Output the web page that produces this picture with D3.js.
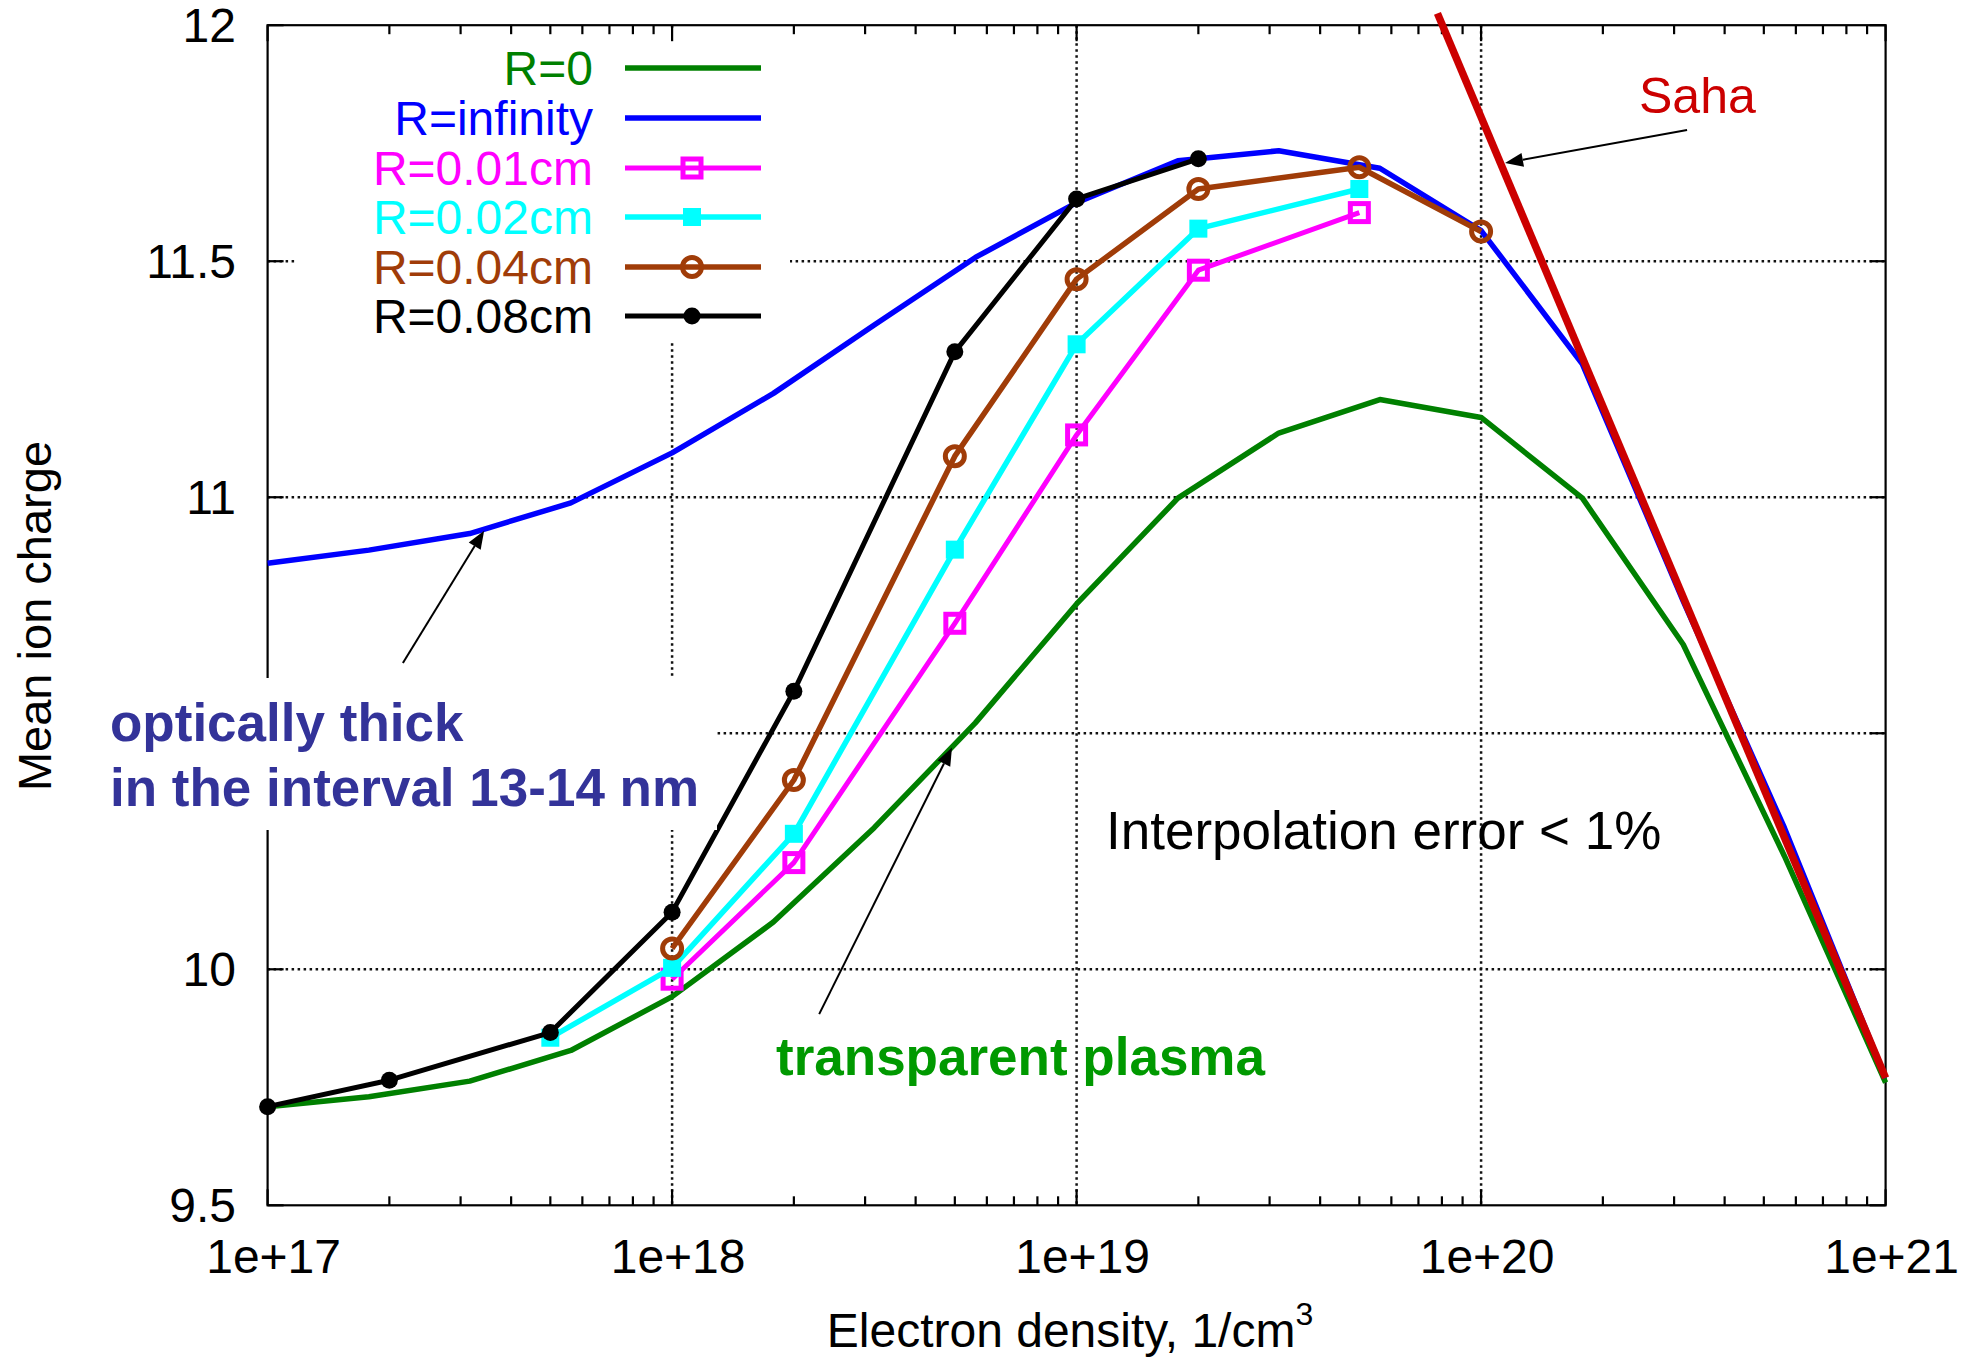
<!DOCTYPE html>
<html><head><meta charset="utf-8">
<script src="https://cdn.jsdelivr.net/npm/d3@7"></script>
<style>html,body{margin:0;padding:0;background:#fff}svg{display:block}</style>
</head><body>
<svg id="c" width="1979" height="1363"></svg>
<script>
// ---------------- data ----------------
const densityFine = [1e17,1.78e17,3.16e17,5.62e17,1e18,1.78e18,3.16e18,5.62e18,1e19,1.78e19,3.16e19,5.62e19,1e20,1.78e20,3.16e20,5.62e20,1e21];
const chargeR0    = [9.709,9.730,9.763,9.828,9.942,10.100,10.300,10.522,10.774,10.998,11.136,11.207,11.169,10.998,10.688,10.240,9.760];
const chargeRinf  = [10.860,10.888,10.923,10.988,11.094,11.220,11.365,11.508,11.624,11.713,11.734,11.697,11.565,11.282,10.780,10.300,9.770];
const densityR001 = [1e18,2e18,5e18,1e19,2e19,5e19];
const chargeR001  = [9.979,10.226,10.733,11.132,11.481,11.603];
const densityR002 = [5e17,1e18,2e18,5e18,1e19,2e19,5e19];
const chargeR002  = [9.855,10.003,10.287,10.889,11.324,11.569,11.653];
const densityR004 = [1e18,2e18,5e18,1e19,2e19,5e19,1e20];
const chargeR004  = [10.044,10.401,11.087,11.462,11.653,11.699,11.563];
const densityR008 = [1e17,2e17,5e17,1e18,2e18,5e18,1e19,2e19];
const chargeR008  = [9.709,9.765,9.866,10.121,10.589,11.308,11.632,11.717];
const densitySaha = [7.8e19,1e21];
const chargeSaha  = [12.025,9.770];

const xTickValues = [1e17,1e18,1e19,1e20,1e21];
const xTickLabels = ["1e+17","1e+18","1e+19","1e+20","1e+21"];
const yTickValues = [9.5,10,10.5,11,11.5,12];
const yTickLabels = ["9.5","10","10.5","11","11.5","12"];

const seriesNames = ["R=0","R=infinity","R=0.01cm","R=0.02cm","R=0.04cm","R=0.08cm"];

// annotation anchors (data coordinates)
const arrowThick  = [[2.16e17,10.649],[3.43e17,10.929]];
const arrowTransp = [[2.31e18,9.905],[4.92e18,10.470]];
const arrowSaha   = [[3.23e20,11.778],[1.146e20,11.708]];

// ---------------- layout ----------------
const L = 267.6, R = 1885.6, T = 25.2, B = 1205.3;
const svg = d3.select("#c");
const FONT = "'Liberation Sans', Arial, Helvetica, sans-serif";

const x = d3.scaleLog().domain([1e17,1e21]).range([L,R]);
const y = d3.scaleLinear().domain([9.5,12]).range([B,T]);

const series = [
  {name: seriesNames[0], xs: densityFine, ys: chargeR0,   color:"#008000", w:5.5, marker:null},
  {name: seriesNames[1], xs: densityFine, ys: chargeRinf, color:"#0000ff", w:5.5, marker:null},
  {name: seriesNames[2], xs: densityR001, ys: chargeR001, color:"#ff00ff", w:5,   marker:"osq"},
  {name: seriesNames[3], xs: densityR002, ys: chargeR002, color:"#00ffff", w:5.5, marker:"fsq"},
  {name: seriesNames[4], xs: densityR004, ys: chargeR004, color:"#a03c08", w:5.5, marker:"oci"},
  {name: seriesNames[5], xs: densityR008, ys: chargeR008, color:"#000000", w:5,   marker:"fci"}
];

// ---------------- grid ----------------
const grid = svg.append("g").attr("stroke","#111").attr("stroke-width",2.5).attr("stroke-dasharray","2.5,3.5");
xTickValues.slice(1,-1).forEach(v=>{
  grid.append("line").attr("x1",x(v)).attr("x2",x(v)).attr("y1",T).attr("y2",B);
});
yTickValues.slice(1,-1).forEach(v=>{
  grid.append("line").attr("x1",L).attr("x2",R).attr("y1",y(v)).attr("y2",y(v));
});

// legend background (opaque key)
svg.append("rect").attr("x",296).attr("y",30).attr("width",494).attr("height",313).attr("fill","#fff");

// ---------------- axes / border ----------------
const axG = svg.append("g").attr("stroke","#000").attr("stroke-width",2.2);
axG.append("rect").attr("x",L).attr("y",T).attr("width",R-L).attr("height",B-T).attr("fill","none");
const minor = [];
for (let e=17;e<21;e++) for (let m=2;m<=9;m++) minor.push(m*Math.pow(10,e));
xTickValues.forEach(v=>{
  axG.append("line").attr("x1",x(v)).attr("x2",x(v)).attr("y1",B).attr("y2",B-16);
  axG.append("line").attr("x1",x(v)).attr("x2",x(v)).attr("y1",T).attr("y2",T+16);
});
minor.forEach(v=>{
  axG.append("line").attr("x1",x(v)).attr("x2",x(v)).attr("y1",B).attr("y2",B-9);
  axG.append("line").attr("x1",x(v)).attr("x2",x(v)).attr("y1",T).attr("y2",T+9);
});
yTickValues.forEach(v=>{
  axG.append("line").attr("x1",L).attr("x2",L+16).attr("y1",y(v)).attr("y2",y(v));
  axG.append("line").attr("x1",R).attr("x2",R-16).attr("y1",y(v)).attr("y2",y(v));
});

// ---------------- curves ----------------
const line = d3.line().x(d=>x(d[0])).y(d=>y(d[1]));
function drawMarker(g, type, cx, cy, color){
  if (type==="osq") g.append("rect").attr("x",cx-9).attr("y",cy-9).attr("width",18).attr("height",18)
      .attr("fill","none").attr("stroke",color).attr("stroke-width",5);
  else if (type==="fsq") g.append("rect").attr("x",cx-9).attr("y",cy-9).attr("width",18).attr("height",18).attr("fill",color);
  else if (type==="oci") g.append("circle").attr("cx",cx).attr("cy",cy).attr("r",9.5)
      .attr("fill","none").attr("stroke",color).attr("stroke-width",5);
  else if (type==="fci") g.append("circle").attr("cx",cx).attr("cy",cy).attr("r",8.5).attr("fill",color);
}
const curveG = svg.append("g");
series.forEach(s=>{
  const pts = s.xs.map((v,i)=>[v,s.ys[i]]);
  curveG.append("path").attr("d",line(pts)).attr("fill","none").attr("stroke",s.color)
    .attr("stroke-width",s.w).attr("stroke-linejoin","round");
  if (s.marker) pts.forEach(p=>drawMarker(curveG,s.marker,x(p[0]),y(p[1]),s.color));
});
// Saha
curveG.append("path").attr("d",line(densitySaha.map((v,i)=>[v,chargeSaha[i]])))
  .attr("fill","none").attr("stroke","#cc0000").attr("stroke-width",7.5);

// annotation box (opaque label background)
svg.append("rect").attr("x",100).attr("y",678).attr("width",617).attr("height",152).attr("fill","#fff");

// ---------------- tick labels ----------------
const lab = svg.append("g").attr("font-family",FONT).attr("font-size",48).attr("fill","#000");
yTickValues.forEach((v,i)=>{
  if (v===10.5) return; // hidden behind annotation box in the reference
  lab.append("text").attr("x",236).attr("y",y(v)+17).attr("text-anchor","end").text(yTickLabels[i]);
});
xTickValues.forEach((v,i)=>{
  lab.append("text").attr("x",x(v)+6).attr("y",1273).attr("text-anchor","middle").text(xTickLabels[i]);
});
// axis titles
const xt = lab.append("text").attr("x",1070).attr("y",1347).attr("text-anchor","middle");
xt.append("tspan").text("Electron density, 1/cm");
xt.append("tspan").attr("font-size",32).attr("dy",-22).text("3");
lab.append("text").attr("transform","translate(51,616) rotate(-90)").attr("text-anchor","middle")
  .attr("font-size",47).text("Mean ion charge");

// ---------------- annotations ----------------
const ann = svg.append("g").attr("font-family",FONT);
ann.append("text").attr("x",110).attr("y",741).attr("font-size",53).attr("font-weight","bold")
  .attr("fill","#333399").text("optically thick");
ann.append("text").attr("x",110).attr("y",806).attr("font-size",53).attr("font-weight","bold")
  .attr("fill","#333399").text("in the interval 13-14 nm");
ann.append("text").attr("x",776).attr("y",1075).attr("font-size",53).attr("font-weight","bold")
  .attr("fill","#009900").text("transparent plasma");
ann.append("text").attr("x",1106).attr("y",849).attr("font-size",53).attr("fill","#000")
  .text("Interpolation error < 1%");
ann.append("text").attr("x",1639).attr("y",113).attr("font-size",50).attr("fill","#cc0000").text("Saha");

function arrow(a){
  const x1=x(a[0][0]), y1=y(a[0][1]), x2=x(a[1][0]), y2=y(a[1][1]);
  const ang = Math.atan2(y2-y1,x2-x1), len=18, hw=7;
  const bx = x2 - len*Math.cos(ang), by = y2 - len*Math.sin(ang);
  ann.append("line").attr("x1",x1).attr("y1",y1).attr("x2",bx).attr("y2",by)
    .attr("stroke","#000").attr("stroke-width",2);
  const p = [[x2,y2],[bx+hw*Math.sin(ang),by-hw*Math.cos(ang)],[bx-hw*Math.sin(ang),by+hw*Math.cos(ang)]];
  ann.append("path").attr("d","M"+p.map(q=>q.join(",")).join("L")+"Z").attr("fill","#000");
}
[arrowThick,arrowTransp,arrowSaha].forEach(arrow);

// ---------------- legend ----------------
const rowY = [68,118,168,217,267,316];
const leg = svg.append("g").attr("font-family",FONT).attr("font-size",48);
series.forEach((s,i)=>{
  leg.append("text").attr("x",593).attr("y",rowY[i]+17).attr("text-anchor","end").attr("fill",s.color).text(s.name);
  leg.append("line").attr("x1",625).attr("x2",761).attr("y1",rowY[i]).attr("y2",rowY[i])
    .attr("stroke",s.color).attr("stroke-width",s.w);
  if (s.marker) drawMarker(leg,s.marker,692,rowY[i],s.color);
});
</script>
</body></html>
